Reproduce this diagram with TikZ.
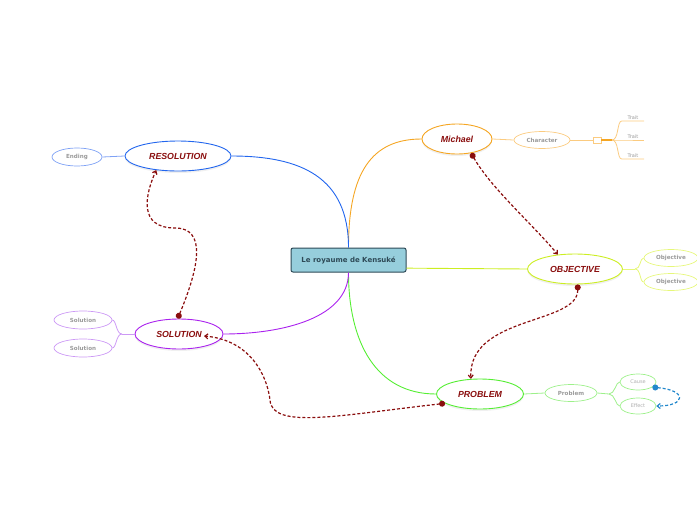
\documentclass[tikz,border=0pt]{standalone}
\usepackage{fontspec}
\setmainfont{Liberation Sans}
\newfontfamily\dejavu{DejaVu Sans}
\usetikzlibrary{shapes.geometric,arrows.meta,shadows}
\definecolor{mindred}{HTML}{8A0E0E}
\definecolor{labelgray}{HTML}{9A9A9A}
\definecolor{michaelc}{HTML}{F5A623}
\definecolor{michaellight}{HTML}{FBCB80}
\definecolor{objc}{HTML}{CCEE22}
\definecolor{objlight}{HTML}{E6F77A}
\definecolor{probc}{HTML}{55EE33}
\definecolor{problight}{HTML}{9DF08A}
\definecolor{resc}{HTML}{2266EE}
\definecolor{reslight}{HTML}{7FA2F5}
\definecolor{solc}{HTML}{AA22EE}
\definecolor{sollight}{HTML}{CC99F5}
\definecolor{causeblue}{HTML}{2288CC}
\definecolor{centrefill}{HTML}{96CEDC}
\definecolor{centreline}{HTML}{2E4A57}
\begin{document}
\begin{tikzpicture}[x=1pt,y=-1pt,
  centre/.style={rectangle,draw=centreline,fill=centrefill,line width=1pt,rounded corners=2pt,
    minimum width=115pt,minimum height=24pt,inner sep=0pt,text=centreline,
    font=\dejavu\fontsize{7}{8}\selectfont\bfseries},
  main/.style={ellipse,line width=0.9pt,fill=white,minimum height=30pt,inner sep=0pt,
    drop shadow={shadow xshift=0pt,shadow yshift=-2pt,opacity=0.12},
    text=mindred,font=\fontsize{8.8}{10}\selectfont\bfseries\itshape},
  sub/.style={ellipse,line width=0.7pt,minimum height=17pt,inner sep=0pt,
    text=labelgray,font=\dejavu\fontsize{5.6}{7}\selectfont\bfseries},
  leaf/.style={ellipse,line width=0.7pt,minimum width=36pt,minimum height=16pt,inner sep=0pt,
    text=labelgray!80,font=\dejavu\fontsize{5}{6}\selectfont},
  trait/.style={anchor=south,minimum width=22pt,inner sep=1pt,
    text=labelgray,font=\dejavu\fontsize{5}{6}\selectfont},
  branch/.style={line width=0.9pt},
  twig/.style={line width=0.8pt},
  relate/.style={draw=mindred,line width=1.2pt,dash pattern=on 3pt off 2pt,
    {Circle[length=6pt,fill=mindred]}-{Straight Barb[length=3pt,width=5pt]}}]
\useasboundingbox (0,0) rectangle (697,520);

\node[centre] (cen) at (348.5,260) {Le royaume de Kensuké};

\node[main,draw=michaelc,minimum width=70pt] (mich) at (457,139) {Michael};
\node[main,draw=objc,minimum width=95pt] (obj) at (575,269) {OBJECTIVE};
\node[main,draw=probc,minimum width=87pt] (prob) at (480,394) {PROBLEM};
\node[main,draw=resc,minimum width=106pt] (res) at (178,156) {RESOLUTION};
\node[main,draw=solc,minimum width=88pt] (sol) at (179,334) {SOLUTION};

\node[sub,draw=michaellight,minimum width=56pt] (char) at (542,140) {Character};
\node[draw=michaellight,line width=0.7pt,minimum width=8pt,minimum height=6pt,inner sep=0pt] (fold) at (597,140) {};
\coordinate (tj) at (612,140);
\node[trait] (t1) at (633,121) {Trait};
\node[trait] (t2) at (633,140) {Trait};
\node[trait] (t3) at (633,159) {Trait};

\node[sub,draw=objlight,minimum width=54pt] (ob1) at (671,258) {Objective};
\node[sub,draw=objlight,minimum width=54pt] (ob2) at (671,282) {Objective};
\coordinate (oj) at (635,269);

\node[sub,draw=problight,minimum width=52pt] (pr) at (571,393) {Problem};
\coordinate (pj) at (609,394);
\node[leaf,draw=problight] (cause) at (638,382) {Cause};
\node[leaf,draw=problight] (effect) at (638,406) {Effect};

\node[sub,draw=reslight,minimum width=50pt,minimum height=18pt] (end) at (77,157) {Ending};

\node[sub,draw=sollight,minimum width=58pt,minimum height=18pt] (s1) at (83,320) {Solution};
\node[sub,draw=sollight,minimum width=58pt,minimum height=18pt] (s2) at (83,348) {Solution};
\coordinate (sj) at (122,334);
\coordinate (solin) at (204,336);

\draw[branch,michaelc] (cen.north) .. controls +(0,-75) and +(-50,0) .. (mich.west);
\draw[branch,resc] (cen.north) .. controls +(0,-70) and +(70,0) .. (res.east);
\draw[branch,objc] (cen.-8) -- (obj.west);
\draw[branch,probc] (cen.south) .. controls +(0,70) and +(-60,0) .. (prob.west);
\draw[branch,solc] (cen.south) .. controls +(0,45) and +(60,0) .. (sol.east);

\draw[twig,michaellight] (mich.east) -- (char.west);
\draw[twig,michaellight] (char.east) -- (fold.west);
\draw[michaelc,line width=1.3pt] (fold.east) -- (tj);
\draw[twig,michaellight] (tj) .. controls +(7,0) and +(-5,0) .. (t1.south west) -- (t1.south east);
\draw[twig,michaellight] (tj) -- (t2.south west) -- (t2.south east);
\draw[twig,michaellight] (tj) .. controls +(7,0) and +(-5,0) .. (t3.south west) -- (t3.south east);

\draw[twig,objlight] (obj.east) -- (oj);
\draw[twig,objlight] (oj) .. controls +(6,0) and +(-4,0) .. (ob1.west);
\draw[twig,objlight] (oj) .. controls +(6,0) and +(-4,0) .. (ob2.west);

\draw[twig,problight] (prob.east) -- (pr.west);
\draw[twig,problight] (pr.east) -- (pj);
\draw[twig,problight] (pj) .. controls +(6,0) and +(-4,0) .. (cause.west);
\draw[twig,problight] (pj) .. controls +(6,0) and +(-4,0) .. (effect.west);

\draw[twig,reslight] (res.west) -- (end.east);

\draw[twig,sollight] (sol.west) -- (sj);
\draw[twig,sollight] (sj) .. controls +(-6,0) and +(4,0) .. (s1.east);
\draw[twig,sollight] (sj) .. controls +(-6,0) and +(4,0) .. (s2.east);

\draw[relate] (mich.-45) .. controls +(20,35) and +(-25,-30) .. (obj.140);
\draw[relate] (obj.-80) .. controls (578,325) and (468,315) .. (prob.121);
\draw[relate] (sol.95) .. controls (200,265) and (206,228) .. (175,228)
  .. controls (138,228) and (145,195) .. (res.-147);
\draw[relate] (prob.-165) .. controls (340,415) and (272,430) .. (270,400)
  .. controls (267,375) and (250,340) .. (solin);
\draw[relate,draw=causeblue,{Circle[length=6pt,fill=causeblue]}-{Straight Barb[length=3pt,width=5pt]}]
  (cause.-20) .. controls +(35,3) and +(30,0) .. (effect.east);
\end{tikzpicture}
\end{document}
